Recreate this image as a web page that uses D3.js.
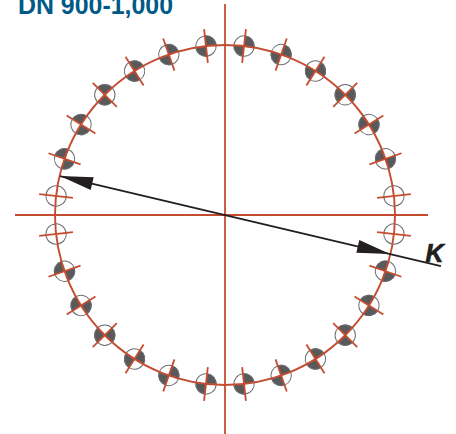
<!DOCTYPE html>
<html>
<head>
<meta charset="utf-8">
<script src="https://d3js.org/d3.v7.min.js"></script>
<style>
  html, body { margin: 0; padding: 0; background: #fff; }
  svg { display: block; }
</style>
</head>
<body>
<div id="chart"></div>
<script>
var title = "DN 900-1,000"
var axisLabel = "K"

// Bolt hole positions, degrees counter-clockwise from the right hand axis
var boltAngles = [6.43, 19.29, 32.14, 45, 57.86, 70.71, 83.57,
                  96.43, 109.29, 122.14, 135, 147.86, 160.71, 173.57,
                  186.43, 199.29, 212.14, 225, 237.86, 250.71, 263.57,
                  276.43, 289.29, 302.14, 315, 327.86, 340.71, 353.57]

// 1 = hole with shaded quadrants, 0 = open hole
var boltShaded = [0, 1, 1, 1, 1, 1, 1,
                  1, 1, 1, 1, 1, 1, 0,
                  0, 1, 1, 1, 1, 1, 1,
                  1, 1, 1, 1, 1, 1, 0]

// Direction of the K line, degrees below the horizontal on the right
var kAngle = 13.3
var kLength = [-0.997, 1.305] // along the line, in pitch circle radii

var red = "#c44d31", dark = "#58595b", ink = "#231f20", blue = "#005a87"

var svg = d3.select("#chart").append("svg")
  .attr("width", 456)
  .attr("height", 434)

// Both scales are in pitch circle radii, centre of the flange is 0,0
var x = d3.scaleLinear().domain([-1, 1]).range([55, 395])
var y = d3.scaleLinear().domain([-1, 1]).range([385, 45])
var radius = x(1) - x(0)

function rad(d) { return d * Math.PI / 180 }

svg.append("text")
  .attr("x", 18)
  .attr("y", 14)
  .style("font-family", "'Liberation Sans', Arial, sans-serif")
  .style("font-weight", "bold")
  .style("font-size", "24.9px")
  .style("fill", blue)
  .text(title)

var bolts = svg.append("g").selectAll("g")
  .data(boltAngles)
  .join("g")
  .attr("transform", function(d) {
    return "translate(" + x(Math.cos(rad(d))) + "," + y(Math.sin(rad(d))) + ") rotate(" + (90 - d) + ")"
  })

// in the rotated frame "up" is outward, shaded pairs start from there
var quarter = d3.arc().innerRadius(0).outerRadius(10.6)

bolts.filter(function(d, i) { return boltShaded[i] == 1 })
  .selectAll("path")
  .data([0, 180])
  .join("path")
  .attr("d", function(a) {
    return quarter({startAngle: rad(a), endAngle: rad(a + 90)})
  })
  .style("fill", dark)

bolts.append("circle")
  .attr("r", 10.2)
  .style("fill", "none")
  .style("stroke", "#6d6e71")
  .style("stroke-width", 1)

// axes
svg.append("line")
  .attr("x1", 15).attr("x2", 428)
  .attr("y1", y(0)).attr("y2", y(0))
  .style("stroke", red).style("stroke-width", 1.8)

svg.append("line")
  .attr("x1", x(0)).attr("x2", x(0))
  .attr("y1", 4).attr("y2", 434)
  .style("stroke", red).style("stroke-width", 1.8)

// pitch circle
svg.append("circle")
  .attr("cx", x(0))
  .attr("cy", y(0))
  .attr("r", radius)
  .style("fill", "none")
  .style("stroke", red)
  .style("stroke-width", 1.9)

// radial ticks through every hole
bolts.append("line")
  .attr("x1", 0).attr("x2", 0)
  .attr("y1", -17).attr("y2", 17)
  .style("stroke", red)
  .style("stroke-width", 1.8)

// K line with arrow heads on the pitch circle
var k = svg.append("g")
  .attr("transform", "translate(" + x(0) + "," + y(0) + ") rotate(" + kAngle + ")")

k.append("line")
  .attr("x1", radius * kLength[0]).attr("x2", radius * kLength[1])
  .attr("y1", 0).attr("y2", 0)
  .style("stroke", ink)
  .style("stroke-width", 1.8)

k.selectAll("path")
  .data([-1, 1])
  .join("path")
  .attr("d", function(s) {
    var line = d3.line()
    return line([[s * radius * 0.997, 0], [s * (radius * 0.997 - 33), -6.5], [s * (radius * 0.997 - 33), 6.5]]) + "Z"
  })
  .style("fill", ink)

svg.append("text")
  .attr("x", 425.5)
  .attr("y", 262)
  .style("font-family", "'Liberation Sans', Arial, sans-serif")
  .style("font-weight", "bold")
  .style("font-style", "italic")
  .style("font-size", "25px")
  .style("fill", ink)
  .style("stroke", ink)
  .style("stroke-width", 0.7)
  .text(axisLabel)
</script>
</body>
</html>
